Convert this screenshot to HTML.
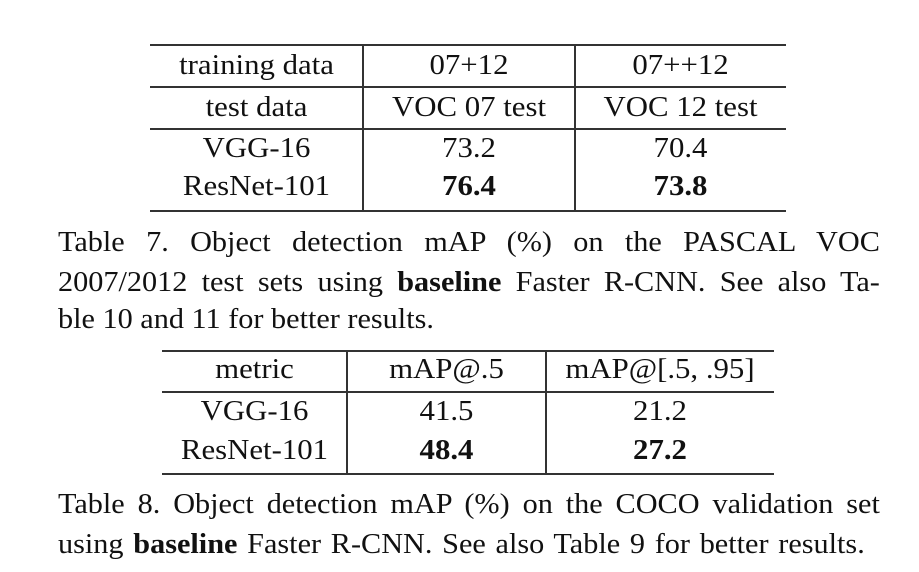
<!DOCTYPE html>
<html><head><meta charset="utf-8"><style>
body{margin:0;width:919px;height:572px;background:#fff;position:relative;overflow:hidden;font-family:"Liberation Serif",serif;color:#111}
.h{position:absolute;height:2px;background:#333}
.v{position:absolute;width:2px;background:#333}
.t{position:absolute;font-size:28px;line-height:28px;text-align:center;transform:translateY(-50%) scaleX(1.1)}
.b{font-weight:bold}
.cap{position:absolute;left:58px;width:761px;font-size:28px;line-height:28px;text-align:justify;text-align-last:justify;white-space:nowrap;transform-origin:0 0;transform:scaleX(1.08)}
.cap.l{text-align-last:left;text-align:left}
</style></head><body>
<div>
<div class="h" style="left:150px;top:44px;width:636px"></div>
<div class="h" style="left:150px;top:86px;width:636px"></div>
<div class="h" style="left:150px;top:128px;width:636px"></div>
<div class="h" style="left:150px;top:210px;width:636px"></div>
<div class="v" style="left:362px;top:44px;height:168px"></div>
<div class="v" style="left:574px;top:44px;height:168px"></div>
<div class="t" style="left:150px;width:213px;top:66px">training data</div>
<div class="t" style="left:363px;width:212px;top:66px">07+12</div>
<div class="t" style="left:575px;width:211px;top:66px">07++12</div>
<div class="t" style="left:150px;width:213px;top:108px">test data</div>
<div class="t" style="left:363px;width:212px;top:108px">VOC 07 test</div>
<div class="t" style="left:575px;width:211px;top:108px">VOC 12 test</div>
<div class="t" style="left:150px;width:213px;top:149px">VGG-16</div>
<div class="t" style="left:363px;width:212px;top:149px">73.2</div>
<div class="t" style="left:575px;width:211px;top:149px">70.4</div>
<div class="t" style="left:150px;width:213px;top:187px">ResNet-101</div>
<div class="t b" style="left:363px;width:212px;top:187px">76.4</div>
<div class="t b" style="left:575px;width:211px;top:187px">73.8</div>
</div>
<div>
<div class="cap" style="top:229px">Table 7. Object detection mAP (%) on the PASCAL VOC</div>
<div class="cap" style="top:269px">2007/2012 test sets using <b>baseline</b> Faster R-CNN. See also Ta-</div>
<div class="cap l" style="top:306px">ble 10 and 11 for better results.</div>
</div>
<div>
<div class="h" style="left:162px;top:350px;width:612px"></div>
<div class="h" style="left:162px;top:391px;width:612px"></div>
<div class="h" style="left:162px;top:473px;width:612px"></div>
<div class="v" style="left:346px;top:350px;height:125px"></div>
<div class="v" style="left:545px;top:350px;height:125px"></div>
<div class="t" style="left:162px;width:185px;top:370px">metric</div>
<div class="t" style="left:347px;width:199px;top:370px">mAP@.5</div>
<div class="t" style="left:546px;width:228px;top:370px">mAP@[.5, .95]</div>
<div class="t" style="left:162px;width:185px;top:412px">VGG-16</div>
<div class="t" style="left:347px;width:199px;top:412px">41.5</div>
<div class="t" style="left:546px;width:228px;top:412px">21.2</div>
<div class="t" style="left:162px;width:185px;top:451px">ResNet-101</div>
<div class="t b" style="left:347px;width:199px;top:451px">48.4</div>
<div class="t b" style="left:546px;width:228px;top:451px">27.2</div>
</div>
<div>
<div class="cap" style="top:491px">Table 8. Object detection mAP (%) on the COCO validation set</div>
<div class="cap l" style="top:531px;word-spacing:2px">using <b>baseline</b> Faster R-CNN. See also Table 9 for better results.</div>
</div>
</body></html>
